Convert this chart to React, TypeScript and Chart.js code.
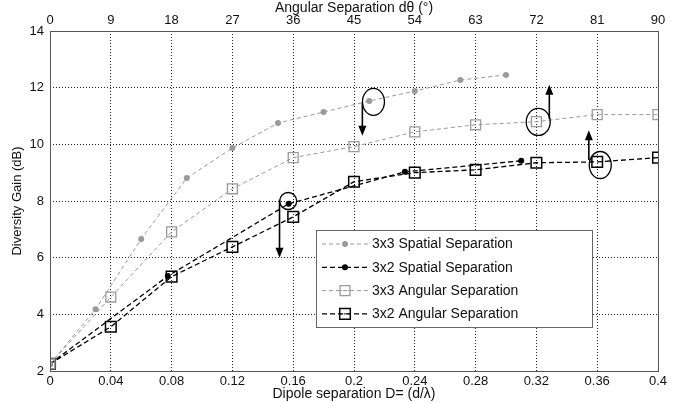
import { useEffect, useRef } from "react";
import { Chart, registerables } from "chart.js";
Chart.register(...registerables);

// ---- data ----
const spatial3x3D = [0, 0.03, 0.06, 0.09, 0.12, 0.15, 0.18, 0.21, 0.24, 0.27, 0.3];
const spatial3x3Gain = [2.25, 4.18, 6.66, 8.81, 9.87, 10.75, 11.14, 11.53, 11.88, 12.27, 12.45];
const spatial3x2D = [0, 0.0775, 0.157, 0.2335, 0.31];
const spatial3x2Gain = [2.25, 5.35, 7.9, 9.03, 9.42];
const angularD = [0, 0.04, 0.08, 0.12, 0.16, 0.2, 0.24, 0.28, 0.32, 0.36, 0.4];
const angular3x3Gain = [2.25, 4.61, 6.91, 8.43, 9.53, 9.92, 10.44, 10.69, 10.8, 11.05, 11.05];
const angular3x2Gain = [2.25, 3.56, 5.33, 6.38, 7.44, 8.68, 9.0, 9.1, 9.35, 9.38, 9.53];

const bottomTicks = [0, 0.04, 0.08, 0.12, 0.16, 0.2, 0.24, 0.28, 0.32, 0.36, 0.4];
const topTicks = [0, 9, 18, 27, 36, 45, 54, 63, 72, 81, 90];
const gainTicks = [2, 4, 6, 8, 10, 12, 14];

const seriesLabels = [
  "3x3 Spatial Separation",
  "3x2 Spatial Separation",
  "3x3 Angular Separation",
  "3x2 Angular Separation",
];

// annotation marks (ellipses + arrows) in data coordinates
const ellipses = [
  { x: 0.2128, y: 11.5, rx: 11, ry: 13.5 },
  { x: 0.1567, y: 8.0, rx: 8.5, ry: 8.5 },
  { x: 0.3212, y: 10.79, rx: 12, ry: 13.5 },
  { x: 0.362, y: 9.27, rx: 11, ry: 13.5 },
];
const arrows = [
  { x: 0.2055, y1: 11.45, y2: 10.3 },
  { x: 0.151, y1: 8.05, y2: 6.0 },
  { x: 0.3285, y1: 10.9, y2: 12.1 },
  { x: 0.3545, y1: 9.45, y2: 10.5 },
];

const FONT = "'Liberation Sans', Arial, Helvetica, sans-serif";
const GRAY = "#9a9a9a";

const toPts = (xs: number[], ys: number[]) => xs.map((x, i) => ({ x, y: ys[i] }));

const framePlugin = {
  id: "frame",
  afterDraw(chart: any) {
    const { ctx, chartArea: a } = chart;
    ctx.save();
    ctx.strokeStyle = "#555";
    ctx.lineWidth = 1;
    ctx.setLineDash([]);
    ctx.strokeRect(Math.round(a.left) + 0.5, Math.round(a.top) + 0.5, Math.round(a.right - a.left), Math.round(a.bottom - a.top));
    ctx.restore();
  },
};

const annotPlugin = {
  id: "annot",
  afterDatasetsDraw(chart: any) {
    const { ctx, scales } = chart;
    const xs = scales.x, ys = scales.y;
    ctx.save();
    ctx.setLineDash([]);
    ctx.strokeStyle = "#000";
    ctx.fillStyle = "#000";
    ctx.lineWidth = 1.3;
    ellipses.forEach((e) => {
      ctx.beginPath();
      ctx.ellipse(xs.getPixelForValue(e.x), ys.getPixelForValue(e.y), e.rx, e.ry, 0, 0, Math.PI * 2);
      ctx.stroke();
    });
    ctx.lineWidth = 1.6;
    arrows.forEach((ar) => {
      const px = xs.getPixelForValue(ar.x);
      const p1 = ys.getPixelForValue(ar.y1);
      const p2 = ys.getPixelForValue(ar.y2);
      const dir = p2 > p1 ? 1 : -1;
      ctx.beginPath();
      ctx.moveTo(px, p1);
      ctx.lineTo(px, p2 - dir * 6);
      ctx.stroke();
      ctx.beginPath();
      ctx.moveTo(px, p2);
      ctx.lineTo(px - 4, p2 - dir * 10);
      ctx.lineTo(px + 4, p2 - dir * 10);
      ctx.closePath();
      ctx.fill();
    });
    ctx.restore();
  },
};

const legendPlugin = {
  id: "customLegend",
  afterDraw(chart: any) {
    const { ctx } = chart;
    const bx = 316.5, by = 230.5, bw = 276, bh = 97;
    ctx.save();
    ctx.fillStyle = "#fff";
    ctx.fillRect(bx, by, bw, bh);
    ctx.strokeStyle = "#666";
    ctx.lineWidth = 1;
    ctx.setLineDash([]);
    ctx.strokeRect(bx, by, bw, bh);
    chart.data.datasets.forEach((ds: any, i: number) => {
      const y = 244 + i * 23.3;
      ctx.strokeStyle = ds.borderColor;
      ctx.lineWidth = ds.borderWidth;
      ctx.setLineDash(ds.borderDash);
      ctx.beginPath();
      ctx.moveTo(322, y);
      ctx.lineTo(368, y);
      ctx.stroke();
      ctx.setLineDash([]);
      const cx = 345;
      if (ds.pointStyle === "circle") {
        ctx.fillStyle = ds.pointBackgroundColor;
        ctx.beginPath();
        ctx.arc(cx, y, ds.pointRadius, 0, Math.PI * 2);
        ctx.fill();
      } else {
        const s = ds.pointRadius * Math.SQRT1_2;
        ctx.fillStyle = "#fff";
        ctx.lineWidth = ds.pointBorderWidth;
        ctx.strokeStyle = ds.pointBorderColor;
        ctx.beginPath();
        ctx.rect(cx - s, y - s, 2 * s, 2 * s);
        ctx.stroke();
        ctx.lineWidth = 1;
        ctx.setLineDash([2, 2]);
        ctx.beginPath();
        ctx.moveTo(cx - s, y);
        ctx.lineTo(cx + s, y);
        ctx.stroke();
        ctx.setLineDash([]);
      }
      ctx.fillStyle = "#111";
      ctx.font = `14px ${FONT}`;
      ctx.textBaseline = "middle";
      ctx.textAlign = "left";
      ctx.fillText(seriesLabels[i], 372, y + 0.5);
    });
    ctx.restore();
  },
};

const bgPlugin = {
  id: "bg",
  beforeDraw(chart: any) {
    const { ctx, width, height } = chart;
    ctx.save();
    ctx.fillStyle = "#fff";
    ctx.fillRect(0, 0, width, height);
    ctx.restore();
  },
};

export default function App() {
  const ref = useRef<HTMLCanvasElement | null>(null);
  useEffect(() => {
    if (!ref.current) return;
    const tickFont = { family: FONT, size: 13 };
    const titleFont = { family: FONT, size: 14 };
    const chart = new Chart(ref.current, {
      type: "line",
      data: {
        datasets: [
          {
            label: seriesLabels[0],
            data: toPts(spatial3x3D, spatial3x3Gain),
            borderColor: GRAY,
            borderWidth: 1,
            borderDash: [4, 3],
            pointStyle: "circle",
            pointRadius: 3,
            pointBackgroundColor: GRAY,
            pointBorderColor: GRAY,
            pointBorderWidth: 0,
            xAxisID: "x",
            yAxisID: "y",
          },
          {
            label: seriesLabels[1],
            data: toPts(spatial3x2D, spatial3x2Gain),
            borderColor: "#000",
            borderWidth: 1.3,
            borderDash: [5, 3],
            pointStyle: "circle",
            pointRadius: 3,
            pointBackgroundColor: "#000",
            pointBorderColor: "#000",
            pointBorderWidth: 0,
            xAxisID: "x",
            yAxisID: "y",
          },
          {
            label: seriesLabels[2],
            data: toPts(angularD, angular3x3Gain),
            borderColor: GRAY,
            borderWidth: 1,
            borderDash: [4, 3],
            pointStyle: "rect",
            pointRadius: 7,
            pointBackgroundColor: "rgba(255,255,255,0)",
            pointBorderColor: GRAY,
            pointBorderWidth: 1.3,
            xAxisID: "x",
            yAxisID: "y",
          },
          {
            label: seriesLabels[3],
            data: toPts(angularD, angular3x2Gain),
            borderColor: "#000",
            borderWidth: 1.3,
            borderDash: [5, 3],
            pointStyle: "rect",
            pointRadius: 7.5,
            pointBackgroundColor: "rgba(255,255,255,0)",
            pointBorderColor: "#000",
            pointBorderWidth: 1.5,
            xAxisID: "x",
            yAxisID: "y",
          },
        ],
      },
      options: {
        animation: false,
        responsive: false,
        maintainAspectRatio: false,
        layout: { padding: { left: 0, right: 23, top: 0, bottom: 0 } },
        plugins: { legend: { display: false }, tooltip: { enabled: false } },
        elements: { line: { tension: 0 } },
        scales: {
          x: {
            type: "linear",
            position: "bottom",
            min: 0,
            max: 0.4,
            afterBuildTicks: (s: any) => {
              s.ticks = bottomTicks.map((v) => ({ value: v }));
            },
            afterFit: (s: any) => {
              s.height = 32;
            },
            ticks: {
              color: "#111",
              font: tickFont,
              padding: 3,
              maxRotation: 0,
              autoSkip: false,
              callback: (v: any) => String(Number(Number(v).toFixed(2))),
            },
            grid: { color: "#222", lineWidth: 1, drawTicks: false },
            border: { display: false, dash: [1, 2] },
            title: {
              display: true,
              text: "Dipole separation D= (d/λ)",
              color: "#111",
              font: titleFont,
              padding: { top: 0, bottom: 0 },
            },
          },
          x2: {
            type: "linear",
            position: "top",
            min: 0,
            max: 90,
            afterBuildTicks: (s: any) => {
              s.ticks = topTicks.map((v) => ({ value: v }));
            },
            afterFit: (s: any) => {
              s.height = 31;
            },
            ticks: { color: "#111", font: tickFont, padding: 3, maxRotation: 0, autoSkip: false },
            grid: { drawOnChartArea: false, drawTicks: false },
            border: { display: false },
            title: {
              display: true,
              text: "Angular Separation dθ (°)",
              color: "#111",
              font: titleFont,
              padding: { top: 0, bottom: 0 },
            },
          },
          y: {
            type: "linear",
            position: "left",
            min: 2,
            max: 14,
            afterBuildTicks: (s: any) => {
              s.ticks = gainTicks.map((v) => ({ value: v }));
            },
            afterFit: (s: any) => {
              s.width = 50;
            },
            ticks: { color: "#111", font: tickFont, padding: 6, autoSkip: false },
            grid: { color: "#222", lineWidth: 1, drawTicks: false },
            border: { display: false, dash: [1, 2] },
            title: {
              display: true,
              text: "Diversity Gain (dB)",
              color: "#111",
              font: { family: FONT, size: 13 },
              padding: { top: 10, bottom: 0 },
            },
          },
        },
      } as any,
      plugins: [bgPlugin, framePlugin, annotPlugin, legendPlugin],
    });
    return () => chart.destroy();
  }, []);
  return (
    <div style={{ position: "absolute", left: 0, top: 0, width: 681, height: 403 }}>
      <canvas ref={ref} width={681} height={403} style={{ width: 681, height: 403, display: "block" }} />
    </div>
  );
}
